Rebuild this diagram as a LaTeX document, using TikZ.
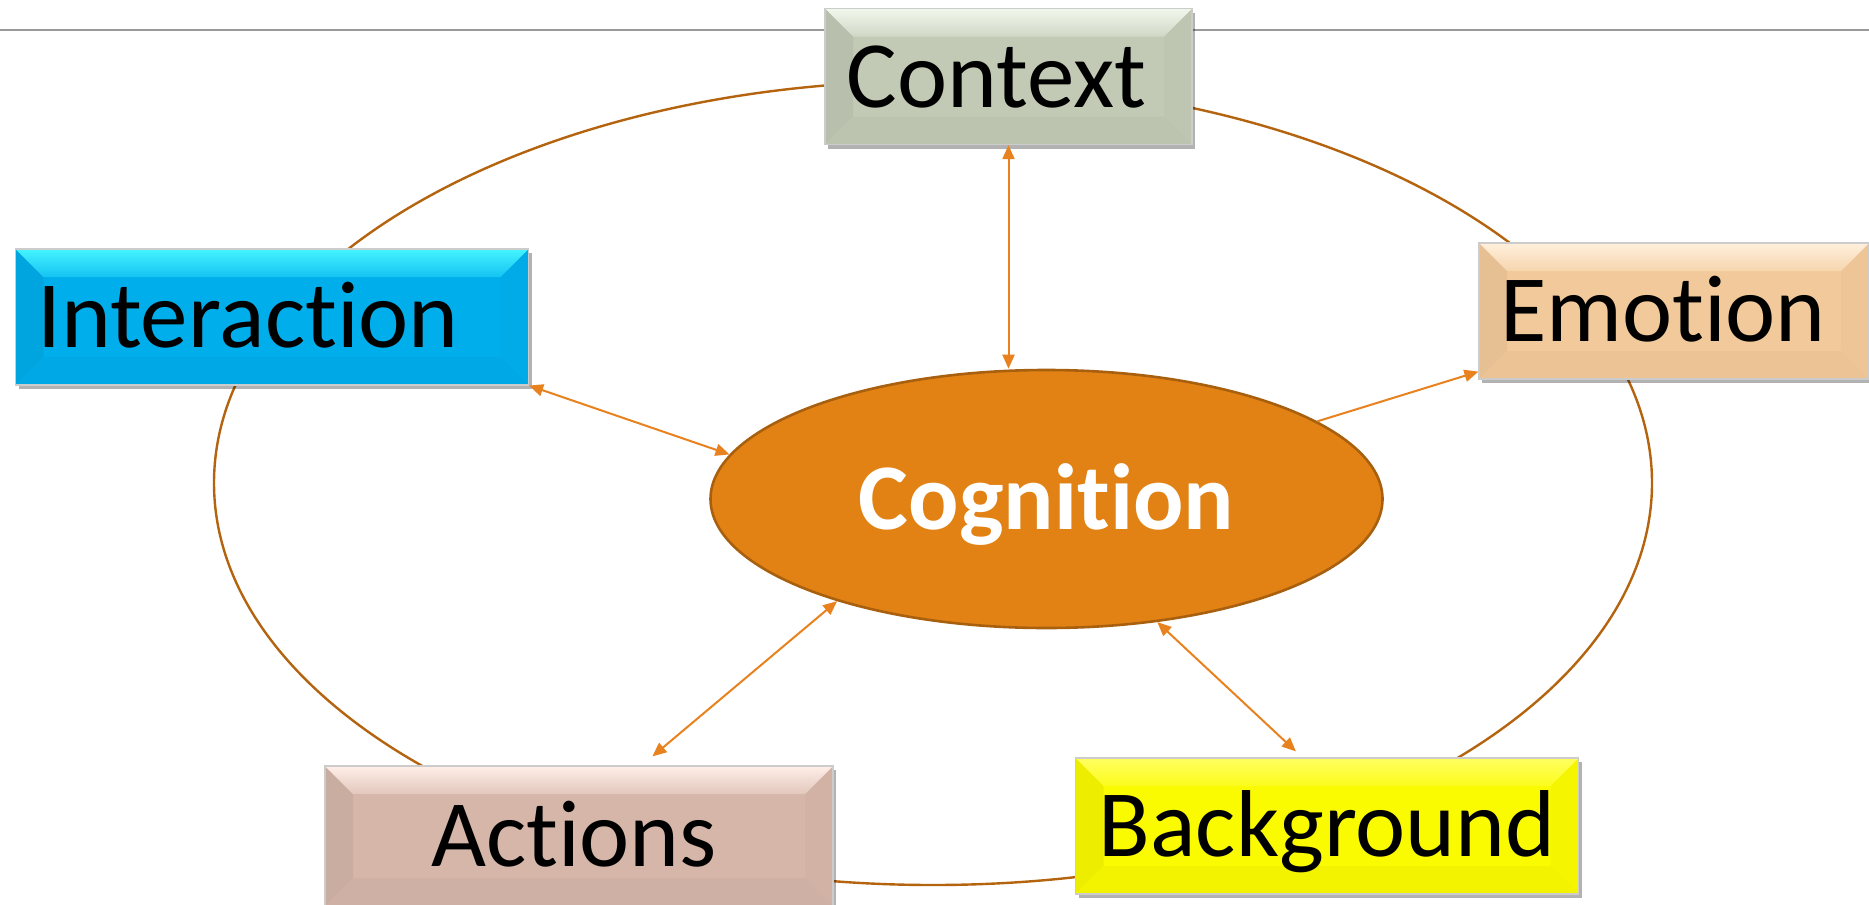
\documentclass[tikz,border=0pt]{standalone}
\usepackage{fontspec}
\setmainfont{Carlito}[Ligatures=NoCommon]
\usetikzlibrary{shapes.geometric,arrows.meta,shadows,calc}
\definecolor{ctxcol}{HTML}{C2CAB6}
\definecolor{ctxtop}{HTML}{F2F7EC}
\definecolor{intcol}{HTML}{00AEEC}
\definecolor{inttop}{HTML}{45F4FF}
\definecolor{emocol}{HTML}{F2C99A}
\definecolor{emotop}{HTML}{FFF0DC}
\definecolor{actcol}{HTML}{D5B6A9}
\definecolor{acttop}{HTML}{FFEEE8}
\definecolor{bgcol}{HTML}{FAFA00}
\definecolor{bgtop}{HTML}{FFFF60}
\definecolor{cogfill}{HTML}{E38214}
\definecolor{cogline}{HTML}{A8600F}
\definecolor{ringcol}{HTML}{B4640F}
\definecolor{arrcol}{HTML}{E8821E}
\tikzset{
  bevelbox/.style 2 args={rectangle, draw=black!20, line width=0.6pt, fill=#1,
    inner sep=0pt, minimum height=68pt,
    font=\fontsize{47.5}{56}\selectfont, text height=30.5pt, text depth=0pt,
    drop shadow={shadow xshift=1.5pt, shadow yshift=-2pt, opacity=0.3, fill=black},
    path picture={
      \fill[#1!95!black] (path picture bounding box.north west)
        -- ([shift={(14pt,-14pt)}]path picture bounding box.north west)
        -- ([shift={(14pt,14pt)}]path picture bounding box.south west)
        -- (path picture bounding box.south west) -- cycle;
      \fill[#1!98!black] (path picture bounding box.north east)
        -- ([shift={(-14pt,-14pt)}]path picture bounding box.north east)
        -- ([shift={(-14pt,14pt)}]path picture bounding box.south east)
        -- (path picture bounding box.south east) -- cycle;
      \fill[#1!97!black] (path picture bounding box.south west)
        -- ([shift={(14pt,14pt)}]path picture bounding box.south west)
        -- ([shift={(-14pt,14pt)}]path picture bounding box.south east)
        -- (path picture bounding box.south east) -- cycle;
      \shade[top color=#2, bottom color=#1!70!#2] (path picture bounding box.north west)
        -- (path picture bounding box.north east)
        -- ([shift={(-14pt,-14pt)}]path picture bounding box.north east)
        -- ([shift={(14pt,-14pt)}]path picture bounding box.north west) -- cycle;
    }},
  link/.style={draw=arrcol, line width=1pt},
  twoway/.style={link, {Triangle[length=7pt,width=6pt]}-{Triangle[length=7pt,width=6pt]}},
  oneway/.style={link, -{Triangle[length=7pt,width=6pt]}},
}
\begin{document}
\begin{tikzpicture}[x=0.5pt,y=-0.5pt]
\useasboundingbox (0,0) rectangle (1869,905);
\fill[white] (0,0) rectangle (1869,905);
% top rule
\draw[black!40, line width=0.6pt] (0,30) -- (1869,30);
% big ring
\node[ellipse, draw=ringcol, line width=1.2pt, minimum width=719pt, minimum height=402pt, inner sep=0pt] (ring) at (933,483) {};
% boxes
\node[bevelbox={ctxcol}{ctxtop}, minimum width=183.5pt] (ctx) at (1008.5,76.5) {Context\hspace*{12pt}};
\node[bevelbox={intcol}{inttop}, minimum width=256.5pt] (int) at (272,317) {Interaction\hspace*{24pt}};
\node[bevelbox={emocol}{emotop}, minimum width=195pt] (emo) at (1674,311) {Emotion\hspace*{11pt}};
\node[bevelbox={actcol}{acttop}, minimum width=254pt, minimum height=70pt] (act) at (579,836) {Actions\hspace*{5pt}};
\node[bevelbox={bgcol}{bgtop}, minimum width=251.5pt] (bg) at (1327,826) {Background};
% center
\node[ellipse, draw=cogline, line width=1.3pt, fill=cogfill, minimum width=336pt, minimum height=129pt, inner sep=0pt,
      text=white, font=\fontsize{47}{56}\selectfont\bfseries, text height=30.3pt, text depth=0pt] (cog) at (1046.5,499) {Cognition};
% connectors
\draw[twoway] (ctx.south) -- (ctx.south |- cog.north);
\draw[twoway] (int.south east) -- (cog.172);
\draw[oneway] (cog.16) -- ([yshift=4pt]emo.south west);
\draw[twoway] ([xshift=164pt,yshift=4.5pt]act.north west) -- (cog.206);
\draw[twoway] ([xshift=110.5pt,yshift=3pt]bg.north west) -- (cog.-48);
\end{tikzpicture}
\end{document}
